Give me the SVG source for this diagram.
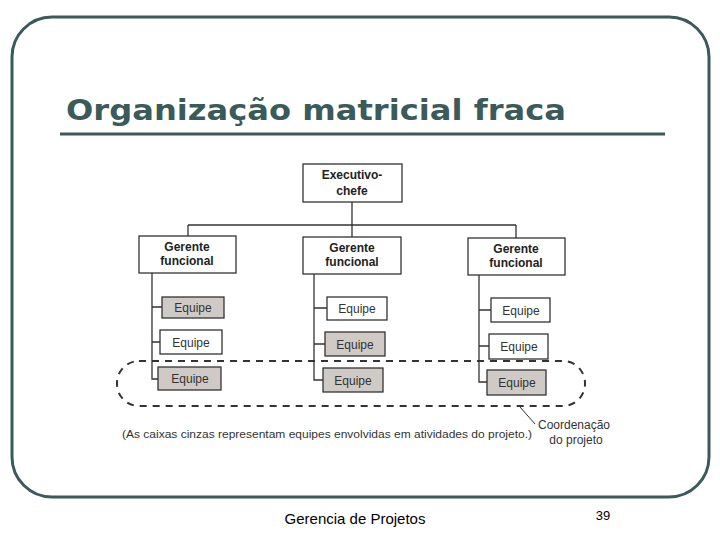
<svg xmlns="http://www.w3.org/2000/svg" width="720" height="540" viewBox="0 0 720 540">
<style>
.b{fill:#fff;stroke:#333;stroke-width:1.3}
.g{fill:#cfcac6;stroke:#333;stroke-width:1.3}
.l{fill:none;stroke:#333;stroke-width:1.3}
.h{font-family:"Liberation Sans",Arial,sans-serif;font-weight:bold;font-size:12px;fill:#222;text-anchor:middle}
.t{font-family:"Liberation Sans",Arial,sans-serif;font-size:12px;fill:#333;text-anchor:middle}
.s{font-family:"Liberation Sans",Arial,sans-serif;font-size:11.5px;fill:#333}
</style>
<rect width="720" height="540" fill="#fff"/>
<rect x="12" y="17" width="697" height="480" rx="40" fill="none" stroke="#3b5a5a" stroke-width="3"/>
<text x="66" y="120" font-family="'DejaVu Sans',sans-serif" font-weight="bold" font-size="29" fill="#3b5a5a" textLength="500" lengthAdjust="spacingAndGlyphs">Organização matricial fraca</text>
<line x1="60" y1="134" x2="665" y2="134" stroke="#3b5a5a" stroke-width="3"/>
<g id="connectors">
<path class="l" d="M352 202V225M188 225H516M188 225V236M352 225V237M516 225V238"/>
<path class="l" d="M152 273V379H158M152 307H162M152 342H160"/>
<path class="l" d="M314 274V380H323M314 308H327M314 344H325"/>
<path class="l" d="M479 275V382H487M479 310H491M479 346H489"/>
<rect x="117" y="361" width="468" height="45" rx="22" fill="none" stroke="#333" stroke-width="2" stroke-dasharray="7,6"/>
<line x1="520" y1="407" x2="535" y2="424" stroke="#333"/>
</g>
<g id="exec"><rect class="b" x="303" y="164" width="99" height="38"/><text class="h" x="352" y="179">Executivo-</text><text class="h" x="352" y="195">chefe</text></g>
<g id="g1"><rect class="b" x="139" y="236" width="97" height="37"/><text class="h" x="187" y="251">Gerente</text><text class="h" x="187" y="265">funcional</text></g>
<g id="g2"><rect class="b" x="303" y="237" width="98" height="37"/><text class="h" x="352" y="252">Gerente</text><text class="h" x="352" y="266">funcional</text></g>
<g id="g3"><rect class="b" x="468" y="238" width="97" height="37"/><text class="h" x="516" y="253">Gerente</text><text class="h" x="516" y="267">funcional</text></g>
<g id="e11"><rect class="g" x="162" y="297" width="62" height="21"/><text class="t" x="193" y="312">Equipe</text></g>
<g id="e12"><rect class="b" x="160" y="330" width="62" height="24"/><text class="t" x="191" y="347">Equipe</text></g>
<g id="e13"><rect class="g" x="158" y="367" width="63" height="23"/><text class="t" x="190" y="383">Equipe</text></g>
<g id="e21"><rect class="b" x="327" y="297" width="60" height="23"/><text class="t" x="357" y="313">Equipe</text></g>
<g id="e22"><rect class="g" x="325" y="332" width="60" height="24"/><text class="t" x="355" y="349">Equipe</text></g>
<g id="e23"><rect class="g" x="323" y="368" width="60" height="24"/><text class="t" x="353" y="385">Equipe</text></g>
<g id="e31"><rect class="b" x="491" y="298" width="59" height="24"/><text class="t" x="521" y="315">Equipe</text></g>
<g id="e32"><rect class="b" x="489" y="334" width="59" height="25"/><text class="t" x="519" y="351">Equipe</text></g>
<g id="e33"><rect class="g" x="487" y="370" width="59" height="25"/><text class="t" x="517" y="387">Equipe</text></g>
<text class="s" x="122" y="438" textLength="410" lengthAdjust="spacingAndGlyphs">(As caixas cinzas representam equipes envolvidas em atividades do projeto.)</text>
<text class="t" x="574" y="429">Coordenação</text>
<text class="t" x="576" y="444">do projeto</text>
<text x="355" y="524" font-family="'Liberation Sans',Arial,sans-serif" font-size="15" text-anchor="middle">Gerencia de Projetos</text>
<text x="603" y="520" font-family="'Liberation Sans',Arial,sans-serif" font-size="13" text-anchor="middle">39</text>
</svg>
